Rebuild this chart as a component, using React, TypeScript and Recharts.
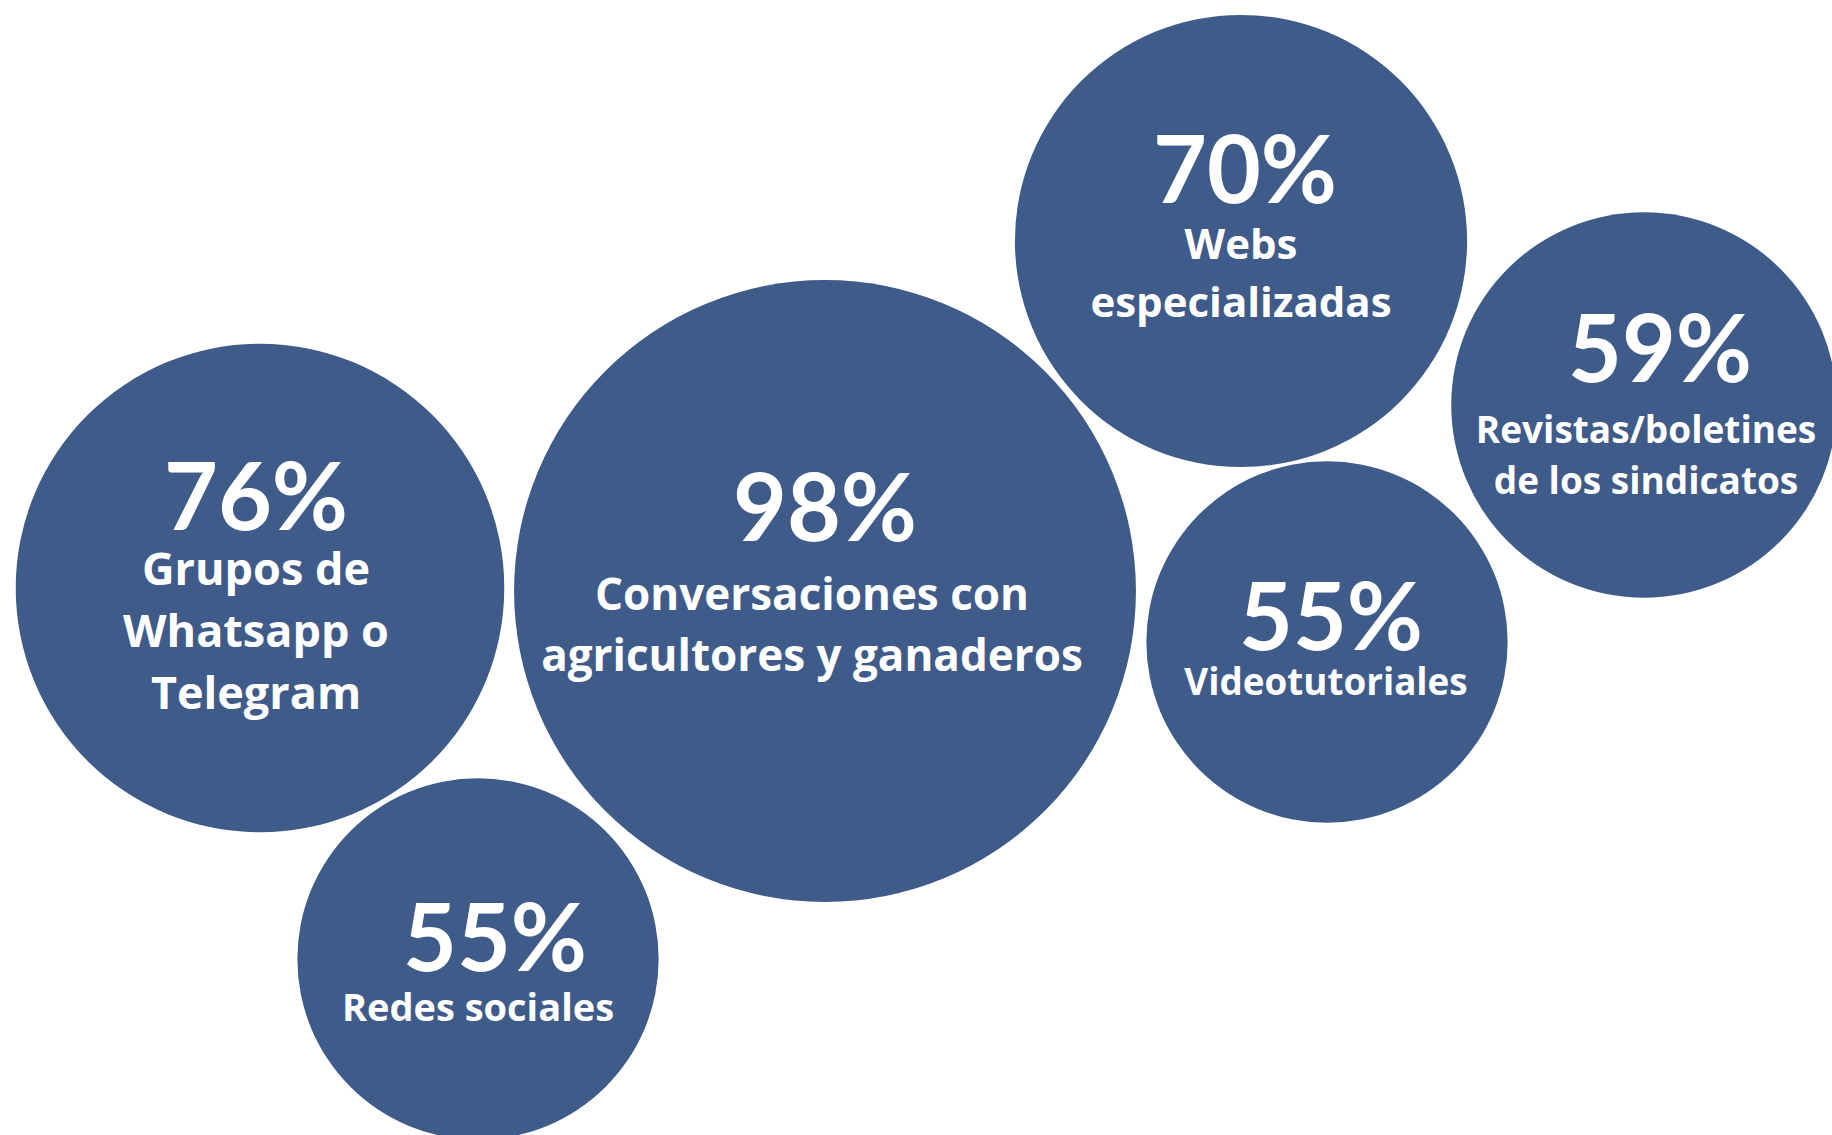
import { Scatter, ScatterChart, XAxis, YAxis } from 'recharts';

const categories = [
  ['Grupos de', 'Whatsapp o', 'Telegram'],
  ['Conversaciones con', 'agricultores y ganaderos'],
  ['Webs', 'especializadas'],
  ['Revistas/boletines', 'de los sindicatos'],
  ['Videotutoriales'],
  ['Redes sociales'],
];
const values = [76, 98, 70, 59, 55, 55];

// packed layout of the bubbles (chart units = px)
const bubbleX = [260, 825, 1241, 1644, 1327, 478];
const bubbleY = [588, 591, 241, 405, 642, 959];

// text placement per bubble
const pctBaseline = [530, 541, 203, 382, 650, 971];
const pctShift = [-4, 0, 4, 16, 4, 17];
const labelShift = [-4, -13, 0, 2, -1, 0];
const labelSize = [45, 44, 42, 37, 36.8, 38];
const firstGap = [55, 69, 56, 61, 45, 50];
const lineGap = [62, 61, 58, 51, 0, 0];

const W = 1832;
const H = 1135;
// radius scale: value (%) -> px
const R_MIN = 14;
const R_PER_PCT = 3.03;
const BLUE = '#3f5b8a';
const PCT_FONT = 'Lato, "Open Sans", sans-serif';
const LABEL_FONT = '"Open Sans", Lato, sans-serif';

const points = values.map((v, i) => ({
  x: bubbleX[i],
  y: bubbleY[i],
  value: v,
  idx: i,
}));

function Bubble(props: any) {
  const { cx, cy, payload } = props;
  const i = payload.idx;
  const r = R_MIN + payload.value * R_PER_PCT;
  const base = pctBaseline[i] - bubbleY[i];
  const lines = categories[i];
  return (
    <g>
      <circle cx={cx} cy={cy} r={r} fill={BLUE} />
      <text
        x={cx + pctShift[i]}
        y={cy + base}
        textAnchor="middle"
        fill="#fff"
        fontFamily={PCT_FONT}
        fontWeight={700}
        fontSize={93}
      >
        {payload.value}%
      </text>
      {lines.map((ln, k) => (
        <text
          key={k}
          x={cx + labelShift[i]}
          y={cy + base + firstGap[i] + k * lineGap[i]}
          textAnchor="middle"
          fill="#fff"
          fontFamily={LABEL_FONT}
          fontWeight={700}
          fontSize={labelSize[i]}
        >
          {ln}
        </text>
      ))}
    </g>
  );
}

export default function App() {
  return (
    <div style={{ width: W, height: H, background: '#fff' }}>
      <style>{'body{margin:0}'}</style>
      <ScatterChart width={W} height={H} margin={{ top: 0, right: 0, bottom: 0, left: 0 }}>
        <XAxis type="number" dataKey="x" domain={[0, W]} hide />
        <YAxis type="number" dataKey="y" domain={[0, H]} reversed hide />
        <Scatter data={points} shape={Bubble} isAnimationActive={false} />
      </ScatterChart>
    </div>
  );
}
